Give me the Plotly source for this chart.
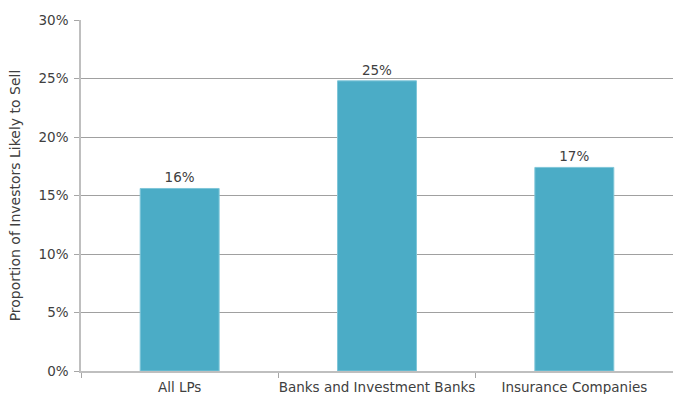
import plotly.graph_objects as go

# Share of investors likely to sell, by investor type
categories = ["All LPs", "Banks and Investment Banks", "Insurance Companies"]
share_likely_to_sell = [0.156, 0.248, 0.174]

y_tick_values = [0, 0.05, 0.10, 0.15, 0.20, 0.25, 0.30]
y_tick_labels = ["0%", "5%", "10%", "15%", "20%", "25%", "30%"]

BAR_COLOR = "#4BACC6"
TEXT_COLOR = "#404040"
FONT = "Century Gothic, DejaVu Sans, sans-serif"

fig = go.Figure(
    go.Bar(
        x=categories,
        y=share_likely_to_sell,
        marker=dict(color=BAR_COLOR, line=dict(color="#7FC6D8", width=1)),
        width=0.4,
        texttemplate="%{y:.0%}",
        textposition="outside",
        textfont=dict(family=FONT, size=13.5, color=TEXT_COLOR),
        cliponaxis=False,
        hoverinfo="skip",
    )
)

fig.update_layout(
    width=673,
    height=394,
    margin=dict(l=81, r=0, t=20, b=23, autoexpand=False),
    paper_bgcolor="white",
    plot_bgcolor="white",
    showlegend=False,
    font=dict(family=FONT, size=13, color=TEXT_COLOR),
)

fig.update_xaxes(
    type="category",
    tickson="boundaries",
    ticks="outside",
    ticklen=5,
    tickcolor="#A6A6A6",
    tickangle=0,
    ticklabelstandoff=3,
    automargin=False,
    showline=True,
    linecolor="#BFBFBF",
    linewidth=1.5,
    showgrid=False,
    tickfont=dict(family=FONT, size=13.5, color=TEXT_COLOR),
)

fig.update_yaxes(
    range=[0, 0.30],
    tickvals=y_tick_values,
    ticktext=y_tick_labels,
    ticks="outside",
    ticklen=5,
    tickcolor="#A6A6A6",
    ticklabelstandoff=3,
    automargin=False,
    showline=True,
    linecolor="#BFBFBF",
    linewidth=1.5,
    showgrid=True,
    gridcolor="#A0A0A0",
    gridwidth=1,
    zeroline=False,
    tickfont=dict(family=FONT, size=13.5, color=TEXT_COLOR),
    title=dict(text="Proportion of Investors Likely to Sell",
               font=dict(family=FONT, size=14, color=TEXT_COLOR)),
)

fig.write_html("out.html")
